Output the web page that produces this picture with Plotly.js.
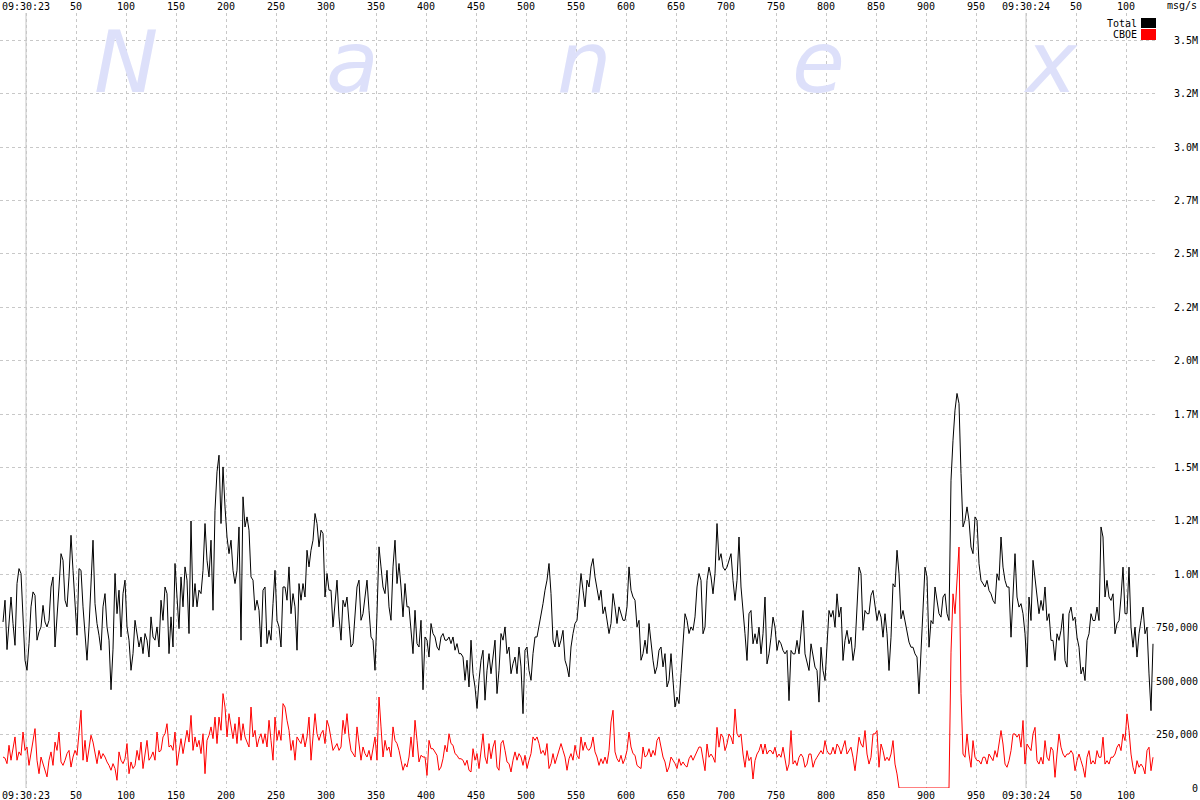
<!DOCTYPE html>
<html>
<head>
<meta charset="utf-8">
<script src="https://cdn.plot.ly/plotly-3.0.1.min.js"></script>
<style>html,body{margin:0;padding:0;background:#fff;}#chart{width:1200px;height:800px;}</style>
</head>
<body>
<div id="chart"></div>
<script>
// Sampling: milliseconds after 09:30:23.000, one sample every 2 ms
const startMs = -23;
const stepMs = 2;

// Total message rate (thousands of msg/s)
const totalK = [
777,879,648,754,894,770,668,957,1027,1004,
824,598,551,676,848,918,902,692,731,754,
855,777,754,785,941,988,660,832,941,1097,
1066,879,848,988,1183,1019,832,715,1027,1019,
848,707,598,754,988,1160,863,770,715,645,
848,910,754,692,460,650,1004,816,926,707,
910,973,754,692,551,629,785,723,660,707,
629,723,692,613,801,707,692,754,660,879,
785,941,910,629,801,660,1051,894,746,988,
848,1035,973,723,1250,848,957,848,926,910,
1019,1238,1066,988,1160,832,1300,1480,1558,1238,
1503,1316,1175,1097,1160,1019,957,1019,1222,
692,1363,1222,1269,1207,988,973,832,879,832,
660,926,941,676,738,692,863,1019,785,754,
660,941,941,879,1035,816,910,848,645,957,
879,957,894,1113,1035,1113,1160,1285,1238,1129,
1207,1191,894,1004,926,926,754,848,973,801,
692,879,848,894,785,660,676,816,941,973,
785,816,910,973,832,707,692,551,816,1129,
1035,941,910,1019,848,785,1035,1160,957,1051,
941,801,957,848,848,723,629,832,676,660,
785,460,707,692,613,770,723,707,660,645,
707,723,692,692,707,676,707,645,676,629,
629,613,504,598,473,692,535,473,372,504,
598,645,411,551,629,535,613,692,442,551,
723,692,754,629,660,535,582,613,535,660,
567,348,645,660,551,504,629,707,707,754,
816,863,926,973,1051,910,692,660,738,660,
692,738,598,567,520,660,723,770,785,894,
1004,926,848,973,941,1035,1074,988,941,879,
926,816,848,785,723,770,910,848,770,848,
816,785,785,848,1035,926,894,879,754,785,
598,629,692,629,770,676,598,535,567,645,
660,567,629,473,504,629,504,379,426,395,
535,660,816,785,723,754,738,801,941,1004,
972,722,753,972,1034,988,909,1003,1238,1066,
1097,1034,1019,1034,1066,1097,972,878,972,1175,
941,847,722,597,816,831,675,722,675,753,
628,722,894,581,628,706,800,753,644,691,
675,644,628,644,409,644,628,628,691,628,
722,831,628,581,550,675,613,566,550,402,
659,550,503,691,831,800,831,753,909,800,
847,597,691,738,675,706,597,659,831,1034,
1003,738,831,816,816,902,925,847,784,831,
800,706,816,722,550,706,956,941,1113,1003,
792,831,784,722,683,659,659,628,613,441,
659,816,1034,988,659,784,769,941,878,816,
800,894,909,816,784,1441,1628,1769,1847,1800,
1472,1222,1253,1316,1253,1128,1097,1269,1253,1050,
972,956,941,972,925,909,878,863,1003,972,
1175,1034,972,941,941,706,941,1097,894,847,
863,816,722,566,894,784,1066,972,909,816,
878,831,941,784,816,691,691,597,722,691,
738,816,597,566,816,847,784,800,706,659,
534,566,503,691,722,816,784,784,847,784,
1222,1175,894,972,894,878,909,722,769,784,
894,1034,816,816,1034,753,659,753,613,722,
784,847,722,753,534,362,675
];

// CBOE message rate (thousands of msg/s)
const cboeK = [
145,140,114,200,130,176,239,130,169,153,
262,176,192,106,161,208,278,130,67,145,
114,83,52,130,169,106,215,176,262,122,
106,130,161,176,98,145,176,153,254,364,
130,223,122,192,247,215,161,114,176,137,
161,145,122,106,83,114,91,36,169,130,
114,137,208,67,122,91,106,176,130,215,
91,169,223,130,145,169,130,262,169,176,
239,254,301,192,200,176,262,106,161,231,
161,208,270,215,340,176,239,192,223,161,
254,67,223,247,286,231,332,208,332,270,
442,379,239,348,286,231,301,208,332,
223,301,239,215,192,379,239,270,192,231,
254,208,254,192,317,223,130,332,223,270,
223,395,379,317,270,176,223,130,239,223,
208,254,192,239,332,130,223,348,254,223,
254,270,208,317,286,223,176,192,208,176,
192,317,254,348,239,176,161,145,286,208,
130,192,161,145,176,130,176,239,130,426,
286,145,223,176,192,145,286,223,208,176,
130,83,114,98,145,239,145,317,223,122,
153,145,145,59,223,184,184,169,153,83,
98,137,200,169,254,208,200,161,153,137,
137,130,106,130,83,75,184,130,161,91,
161,254,145,114,208,137,192,223,98,83,
208,223,176,122,114,75,130,169,130,161,
145,106,153,91,130,161,239,223,239,208,
161,176,153,208,91,114,161,114,145,176,
208,176,145,83,137,161,130,200,153,137,
239,176,215,184,176,192,239,169,145,106,
137,114,145,114,176,309,364,169,137,122,
153,114,137,176,262,192,161,153,106,98,
91,192,145,153,184,145,176,153,223,239,
192,145,122,75,98,145,130,114,91,137,
106,122,106,98,137,153,130,153,176,192,
191,128,81,206,144,159,144,120,284,191,
253,238,175,206,253,238,206,370,253,238,
253,159,97,175,128,144,42,128,159,175,
206,159,206,159,175,175,159,191,144,159,
144,191,128,81,112,269,112,128,105,144,
159,144,97,112,159,159,97,128,144,159,
175,159,222,175,159,159,191,159,206,191,
159,191,222,159,175,191,144,81,159,238,
206,191,269,159,112,144,253,253,269,97,
206,175,128,144,128,159,222,112,66,0,
0,0,0,0,0,0,0,0,0,0,
0,0,0,0,0,0,0,0,0,0,
0,0,0,0,0,636,909,816,988,1128,
441,159,144,253,159,97,222,144,128,128,
112,144,144,112,159,144,128,175,144,206,
269,206,112,97,128,175,253,253,238,253,
191,316,112,206,191,175,253,284,128,112,
144,112,222,144,128,191,175,50,159,253,
191,159,144,159,159,175,159,81,128,159,
128,97,50,144,175,112,128,112,175,144,
144,238,112,128,112,144,144,159,191,206,
175,253,222,347,269,159,97,66,128,97,
112,97,66,175,191,81,144
];

// Axis ticks
const xTickVals = [0,50,100,150,200,250,300,350,400,450,500,550,600,650,700,750,800,850,900,950,1000,1050,1100];
const xTickText = ["09:30:23","50","100","150","200","250","300","350","400","450","500","550","600","650","700","750","800","850","900","950","09:30:24","50","100"];
const secondMarks = [0, 1000];
const yTickVals = [0,250000,500000,750000,1000000,1250000,1500000,1750000,2000000,2250000,2500000,2750000,3000000,3250000,3500000];
const yTickText = ["0","250,000","500,000","750,000","1.0M","1.2M","1.5M","1.7M","2.0M","2.2M","2.5M","2.7M","3.0M","3.2M","3.5M"];
const seriesNames = ["Total","CBOE"];
const seriesColors = ["#000000","#ff0000"];
const watermark = ["N","a","n","e","x"];

const xs = totalK.map((_, i) => startMs + i * stepMs);
const pad = s => "\u00A0".repeat(Math.max(0, 7 - s.length)) + s;

const mono = "DejaVu Sans Mono, monospace";
const W = 1155, H = 775, T = 13; // plot area (px)
const px = x => x / W;
const py = y => (T + H - y) / H;

const traces = [
  {x: xs, y: totalK.map(v => v * 1000), type: "scatter", mode: "lines", name: seriesNames[0],
   line: {color: seriesColors[0], width: 1}, xaxis: "x", yaxis: "y", hoverinfo: "skip"},
  {x: xs, y: cboeK.map(v => v * 1000), type: "scatter", mode: "lines", name: seriesNames[1],
   line: {color: seriesColors[1], width: 1}, xaxis: "x2", yaxis: "y", hoverinfo: "skip"}
];

const gridStyle = {gridcolor: "#c8c8c8", griddash: "3px,3px", gridwidth: 1};

const wmX = [126, 352, 585, 818, 1050];
const annotations = watermark.map((t, i) => ({
  text: t, x: px(wmX[i]), y: py(62), xref: "paper", yref: "paper",
  xanchor: "center", yanchor: "middle", showarrow: false,
  font: {family: "DejaVu Sans", size: 86, style: "italic", color: "rgb(221,224,250)"}
}));
annotations.push(
  {text: seriesNames[0], x: px(1139), y: py(23), xref: "paper", yref: "paper", xanchor: "right", yanchor: "middle", showarrow: false, font: {family: mono, size: 10, color: "#000"}},
  {text: seriesNames[1], x: px(1139), y: py(34), xref: "paper", yref: "paper", xanchor: "right", yanchor: "middle", showarrow: false, font: {family: mono, size: 10, color: "#000"}},
  {text: "msg/s", x: px(1199), y: py(6), xref: "paper", yref: "paper", xanchor: "right", yanchor: "middle", showarrow: false, font: {family: mono, size: 10, color: "#000"}}
);

const shapes = secondMarks.map(m => ({
  type: "line", xref: "x", yref: "paper", x0: m, x1: m, y0: 0, y1: 1,
  line: {color: "#c4c4c4", width: 1}, layer: "below"
}));
shapes.push(
  {type: "rect", xref: "paper", yref: "paper", x0: px(1141), x1: px(1156), y0: py(28), y1: py(18), fillcolor: seriesColors[0], line: {width: 0}},
  {type: "rect", xref: "paper", yref: "paper", x0: px(1141), x1: px(1156), y0: py(40), y1: py(29), fillcolor: seriesColors[1], line: {width: 0}}
);

const layout = {
  width: 1200, height: 800,
  margin: {l: 0, r: 1200 - W, t: T, b: 800 - T - H, pad: 0},
  paper_bgcolor: "#ffffff", plot_bgcolor: "#ffffff",
  showlegend: false,
  font: {family: mono, size: 10, color: "#000"},
  xaxis: Object.assign({range: [-26, W - 26], tickvals: xTickVals, ticktext: xTickText, showgrid: true,
    zeroline: false, showline: false, ticks: "", tickfont: {family: mono, size: 10, color: "#000"}, fixedrange: true}, gridStyle),
  xaxis2: {overlaying: "x", matches: "x", side: "top", anchor: "y", tickvals: xTickVals, ticktext: xTickText,
    showgrid: false, zeroline: false, showline: false, ticks: "", tickfont: {family: mono, size: 10, color: "#000"}},
  yaxis: Object.assign({range: [0, 3628000], side: "right", tickvals: yTickVals, ticktext: yTickText.map(pad),
    showgrid: true, zeroline: false, showline: false, ticks: "", tickfont: {family: mono, size: 10, color: "#000"}, fixedrange: true}, gridStyle),
  annotations: annotations,
  shapes: shapes
};

Plotly.newPlot("chart", traces, layout, {displayModeBar: false, staticPlot: true});
</script>
</body>
</html>
